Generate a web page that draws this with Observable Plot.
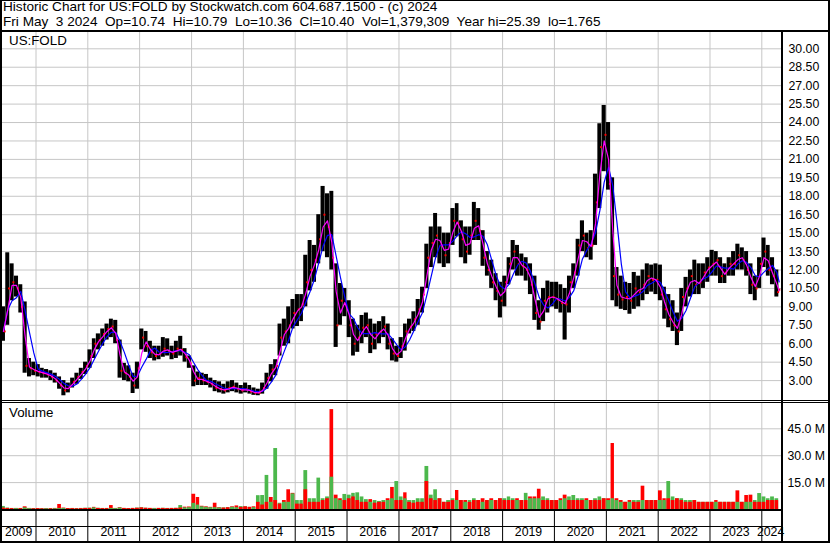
<!DOCTYPE html>
<html><head><meta charset="utf-8">
<script src="https://cdn.jsdelivr.net/npm/d3@7"></script>
<script src="https://cdn.jsdelivr.net/npm/@observablehq/plot@0.6"></script>
<style>
body{margin:0;background:#fff;}
#wrap{position:relative;width:830px;height:543px;overflow:hidden;font-family:Arial,"Liberation Sans",sans-serif;background:#fff;}
.ln{position:absolute;background:#000;}
.t{position:absolute;white-space:pre;font-size:13.6px;line-height:14px;color:#000;}
.p{position:absolute;left:0;}
</style></head><body>
<div id="wrap">
 <div class="p" id="price" style="top:32px"></div>
 <div class="p" id="vol" style="top:401px"></div>
 <div class="p" id="yrs" style="top:510px"></div>
 <div class="t" style="left:3px;top:0px">Historic Chart for US:FOLD by Stockwatch.com 604.687.1500 - (c) 2024</div>
 <div class="t" style="left:3px;top:14.7px">Fri May  3 2024  Op=10.74  Hi=10.79  Lo=10.36  Cl=10.40  Vol=1,379,309  Year hi=25.39  lo=1.765</div>
 <div class="t" style="left:9px;top:34px;font-size:13.33px">US:FOLD</div>
 <div class="t" style="left:9px;top:406px;font-size:13.33px">Volume</div>
 <div class="ln" style="left:0;top:0;width:830px;height:1px"></div>
 <div class="ln" style="left:0;top:30px;width:830px;height:2px"></div>
 <div class="ln" style="left:0;top:0;width:2px;height:543px"></div>
 <div class="ln" style="left:828px;top:0;width:2px;height:543px"></div>
 <div class="ln" style="left:781px;top:32px;width:2px;height:509px"></div>
 <div class="ln" style="left:0;top:400px;width:830px;height:1px"></div>
 <div class="ln" style="left:0;top:402px;width:830px;height:1px"></div>
 <div class="ln" style="left:0;top:509px;width:783px;height:2px"></div>
 <div class="ln" style="left:0;top:526px;width:783px;height:1px"></div>
 <div class="ln" style="left:0;top:541px;width:830px;height:2px"></div>
</div>
<script>
// ---- data (monthly, starting May 2009) ----
const firstMonth = [2009, 4];           // May 2009
const lastTradeDay = [2024, 4, 4];      // data ends May 3 2024
const hi = [
 9.0, 13.4, 12.5, 11.5, 10.8, 9.4, 4.8, 4.5,
 4.3, 4.0, 3.9, 3.8, 3.6, 3.3, 3.0, 2.8, 3.2, 3.6, 4.0, 4.5,
 5.5, 6.4, 6.8, 7.2, 7.6, 8.0, 7.9, 6.3, 4.4, 4.2, 3.6, 4.5,
 7.2, 7.0, 6.2, 5.8, 5.8, 6.5, 6.4, 5.8, 6.2, 6.6, 5.6, 5.0,
 4.2, 3.7, 3.6, 3.5, 3.2, 3.0, 2.9, 2.7, 2.9, 3.0, 2.8, 2.6,
 2.8, 2.6, 2.4, 2.3, 2.8, 3.6, 4.3, 4.7, 7.6, 8.0, 9.0, 9.6,
 10.0, 10.0, 13.2, 14.4, 14.0, 16.5, 18.8, 18.2, 18.4, 12.5, 10.9, 10.5,
 9.5, 8.0, 7.5, 8.3, 8.5, 8.0, 7.6, 7.8, 8.2, 7.6, 6.4, 5.8,
 6.5, 7.6, 8.0, 8.6, 9.6, 10.6, 14.1, 15.5, 16.6, 15.5, 15.0, 15.0,
 17.0, 17.4, 16.0, 15.5, 15.5, 17.5, 17.0, 15.2, 13.5, 12.8, 11.7, 11.0,
 11.5, 13.0, 14.4, 14.0, 13.3, 13.0, 12.5, 11.5, 9.5, 10.5, 11.1, 11.0,
 11.0, 10.8, 10.5, 11.5, 12.5, 14.5, 16.0, 15.0, 15.2, 19.8, 23.9, 25.39,
 24.0, 19.5, 12.2, 11.5, 11.0, 10.9, 11.8, 11.5, 12.0, 12.5, 12.4, 12.5,
 12.4, 10.6, 10.0, 9.5, 8.5, 10.5, 11.4, 12.0, 12.8, 12.5, 12.5, 13.0,
 13.6, 13.5, 13.0, 12.5, 13.0, 13.5, 14.1, 13.8, 13.5, 12.5, 11.5, 13.0,
 14.6, 14.0, 13.0, 12.0, 10.79
];
const lo = [
 6.2, 7.5, 9.5, 9.8, 8.5, 3.6, 3.3, 3.4,
 3.3, 3.2, 3.2, 3.0, 2.8, 2.3, 1.765, 2.0, 2.4, 2.7, 3.1, 3.5,
 4.0, 4.8, 5.5, 5.8, 6.3, 6.5, 6.0, 3.2, 3.0, 2.9, 1.95, 2.3,
 5.5, 5.3, 4.8, 4.6, 4.7, 4.9, 5.0, 4.7, 4.8, 5.0, 4.5, 4.0,
 2.5, 2.6, 2.6, 2.6, 2.4, 2.1, 2.0, 1.9, 2.0, 2.1, 2.0, 1.9,
 2.0, 1.9, 1.8, 1.77, 1.9, 2.3, 2.9, 3.4, 5.0, 5.8, 6.0, 7.2,
 7.4, 7.8, 9.0, 10.3, 11.0, 12.5, 13.5, 13.0, 12.0, 5.7, 7.5, 8.2,
 6.5, 5.0, 5.3, 6.0, 6.5, 5.2, 5.5, 6.0, 6.5, 5.5, 4.6, 4.5,
 4.8, 5.4, 6.8, 7.0, 7.5, 8.5, 10.5, 12.2, 13.0, 12.5, 12.2, 12.5,
 14.0, 14.7, 13.0, 12.5, 13.2, 14.4, 14.4, 12.3, 11.5, 10.5, 9.5, 8.1,
 9.0, 10.8, 12.0, 11.5, 11.5, 11.1, 10.0, 7.9, 7.1, 7.8, 8.5, 9.0,
 8.8, 8.5, 6.3, 8.5, 10.5, 11.5, 13.5, 13.0, 12.8, 14.0, 17.0, 20.0,
 18.5, 9.5, 9.0, 8.8, 8.7, 8.4, 8.8, 9.0, 9.5, 10.0, 10.2, 10.0,
 9.5, 8.0, 7.3, 7.0, 5.85, 7.0, 9.0, 9.8, 10.0, 10.0, 10.5, 11.0,
 11.5, 11.5, 10.9, 10.9, 11.5, 11.5, 12.0, 12.0, 11.5, 10.0, 9.5, 10.5,
 12.2, 11.5, 10.8, 9.8, 10.36
];
const cl = [
 7.0, 10.5, 11.0, 10.5, 9.0, 4.2, 4.0, 3.8,
 3.7, 3.6, 3.5, 3.3, 3.0, 2.6, 2.2, 2.5, 2.9, 3.3, 3.7, 4.2,
 5.0, 6.0, 6.3, 6.8, 7.2, 7.4, 6.3, 3.8, 3.6, 3.3, 2.6, 4.0,
 6.5, 5.8, 5.3, 5.0, 5.2, 5.6, 5.4, 5.2, 5.6, 5.5, 4.9, 4.4,
 3.0, 3.2, 3.0, 2.9, 2.7, 2.4, 2.3, 2.2, 2.4, 2.5, 2.3, 2.2,
 2.3, 2.1, 2.0, 2.0, 2.4, 3.2, 3.9, 4.2, 6.5, 7.0, 7.5, 8.5,
 8.8, 9.2, 11.0, 12.0, 12.8, 14.5, 16.5, 15.5, 13.0, 7.5, 9.5, 9.2,
 7.5, 6.0, 6.5, 7.3, 7.5, 6.0, 6.8, 7.0, 7.4, 6.0, 5.2, 5.0,
 5.8, 7.0, 7.4, 8.0, 8.8, 10.0, 13.0, 14.2, 14.8, 14.0, 13.2, 14.2,
 16.0, 15.8, 14.5, 13.5, 14.8, 16.0, 15.2, 13.0, 12.0, 11.0, 10.3, 9.5,
 11.0, 12.5, 13.5, 12.5, 12.3, 12.0, 10.8, 8.5, 7.8, 9.5, 9.8, 9.8,
 9.6, 9.3, 9.2, 11.0, 11.8, 14.0, 14.8, 13.8, 14.0, 17.5, 22.0, 23.0,
 19.0, 11.5, 10.0, 9.6, 9.8, 9.5, 10.5, 10.2, 10.8, 11.5, 11.2, 11.2,
 10.0, 8.8, 8.0, 7.5, 7.0, 9.8, 10.5, 11.5, 10.8, 11.0, 11.8, 12.2,
 12.5, 12.8, 11.5, 11.8, 12.5, 12.5, 13.2, 12.8, 12.0, 10.8, 10.5, 12.5,
 13.5, 12.0, 11.5, 10.2, 10.40
];
// peak daily volume (millions) on up days / down days in each month
const volUp = [
 1.7, 0.8, 0.6, 0.5, 0.6, 0.9, 0.5, 0.5,
 0.5, 0.5, 0.4, 0.5, 0.4, 0.5, 0.6, 0.5, 0.6, 0.5, 0.6, 0.7,
 0.8, 0.9, 0.7, 0.6, 0.6, 0.6, 0.5, 0.8, 0.6, 0.5, 0.6, 0.8,
 1.0, 0.7, 0.6, 0.5, 0.6, 0.7, 0.6, 0.6, 0.7, 2.2, 0.9, 1.0,
 3.4, 2.5, 1.5, 1.2, 1.0, 1.0, 0.8, 0.9, 1.0, 1.2, 1.0, 1.6,
 1.5, 1.2, 1.0, 7.7, 7.8, 19, 4, 34, 3.5, 4, 4, 8.7,
 5, 5, 21.7, 6, 6, 17.5, 6, 7, 18, 6, 5, 8.4,
 8, 9, 9.3, 7, 5.5, 4, 5, 4.5, 5, 5, 6, 15.6,
 7, 6, 5, 5, 6, 6, 24, 8, 11, 6, 4, 5,
 6, 5, 5, 4, 5, 6, 5, 4, 5, 5, 5, 6,
 6, 7, 6, 5, 5, 9, 6, 6, 6, 7, 6, 5,
 5, 5, 6, 7, 7.8, 6, 6, 5, 5, 6, 7, 6,
 5, 6, 5, 4, 4, 4, 5, 5, 5, 5, 5, 5,
 5, 5, 15.6, 7, 6, 6, 5, 5, 5, 4, 4, 4,
 4, 4, 4, 4, 4, 4, 4, 4, 4, 4, 5, 8.9,
 7, 6, 7, 6, 1.4
];
const volDn = [
 0.8, 0.6, 0.5, 0.6, 0.5, 1.5, 0.6, 0.4,
 0.5, 0.4, 0.5, 0.4, 0.6, 2.8, 0.8, 0.5, 0.5, 0.4, 0.5, 0.6,
 0.6, 1.2, 0.6, 0.5, 0.5, 2.2, 0.6, 1.0, 0.6, 0.5, 0.6, 0.7,
 0.9, 0.7, 0.6, 0.6, 0.6, 0.6, 0.5, 0.6, 0.6, 0.8, 1.3, 1.4,
 8.5, 6.7, 1.8, 1.5, 1.2, 3.5, 1.0, 0.8, 1.0, 1.5, 2.0, 1.2,
 1.5, 1.2, 1.5, 4, 2.5, 4, 6.7, 5, 3, 5, 11, 9,
 3, 3, 11, 4, 4, 4, 5, 6, 55.7, 8, 6, 5,
 6, 7, 5, 4, 4, 5.5, 3.5, 4, 4, 6, 12.3, 5,
 5, 9.3, 4, 3.5, 4, 4, 15.6, 6, 5, 6, 4, 4,
 5, 10.6, 5, 5, 4, 5, 5, 6, 5, 6, 5, 6,
 5, 5, 5, 6, 5, 5, 7, 7, 11.3, 5, 5, 5,
 5, 6, 8, 5, 5, 5, 5, 6, 5, 5, 5, 6,
 6, 36.8, 6, 5, 4, 5, 4, 4, 13, 5, 5, 5,
 10.4, 6, 6, 5, 6, 5, 4, 4, 5, 4, 4, 4,
 4, 5, 4, 4, 4, 4, 10.4, 4, 7.8, 8, 4, 4,
 4, 5, 5, 5, 1.4
];
const priceTicks = [3.00, 4.50, 6.00, 7.50, 9.00, 10.50, 12.00, 13.50, 15.00, 16.50, 18.00, 19.50, 21.00, 22.50, 24.00, 25.50, 27.00, 28.50, 30.00];
const volTicks = [15, 30, 45];
const yearLabels = [2009, 2010, 2011, 2012, 2013, 2014, 2015, 2016, 2017, 2018, 2019, 2020, 2021, 2022, 2023, 2024];
const gridYears = yearLabels.slice(1);

// ---- build tables ----
const start = new Date(Date.UTC(firstMonth[0], firstMonth[1], 1));
const endDay = new Date(Date.UTC(...lastTradeDay));
const months = hi.map((h, i) => {
  const d1 = d3.utcMonth.offset(start, i);
  const n = d3.utcMonth.offset(start, i + 1);
  const d2 = n > endDay ? endDay : n;
  return {d1, d2, dm: new Date((+d1 + +d2) / 2), dc: new Date(+d1 + (d2 - d1) * 0.8),
          hi: h, lo: lo[i], cl: cl[i], up: volUp[i], dn: volDn[i]};
});
const GREEN = "#4cb84c", RED = "#ff0000";
const volBars = [];
for (const m of months) {
  const a = {d1: m.d1, d2: m.d2, v: m.up, c: GREEN};
  const b = {d1: m.d1, d2: m.d2, v: m.dn, c: RED};
  if (a.v >= b.v) volBars.push(a, b); else volBars.push(b, a);
}
const yearGrid = gridYears.map(y => new Date(Date.UTC(y, 0, 1)));
const yearText = yearLabels.map(y => {
  const s = Math.max(+new Date(Date.UTC(y, 0, 1)), +start);
  const e = Math.min(+new Date(Date.UTC(y + 1, 0, 1)), +endDay);
  return {label: String(y), x: new Date((s + e) / 2)};
});

const xOpt = {type: "utc", domain: [new Date(Date.UTC(2010, 0, 1)), new Date(Date.UTC(2024, 0, 1))], range: [35.5, 761.3], axis: null};
const font = "Arial, 'Liberation Sans', sans-serif";
const GRID = "#c6c6c6";
const common = {width: 830, marginLeft: 2, marginRight: 49, marginTop: 0, marginBottom: 0,
  style: {background: "transparent", fontFamily: font, overflow: "visible"}};

const price = Plot.plot({
  ...common, height: 368,
  x: xOpt,
  y: {domain: [3, 30], range: [348.1, 16.3], axis: null},
  marks: [
    Plot.ruleX(yearGrid, {stroke: GRID, strokeWidth: 1}),
    Plot.ruleY(priceTicks, {stroke: GRID, strokeWidth: 1}),
    Plot.rect(months, {x1: "d1", x2: "d2", y1: "lo", y2: "hi", fill: "#000", insetLeft: 0.15, insetRight: 0.15}),
    Plot.dot(months, {x: "dc", y: "cl", r: 1.1, symbol: "square", fill: RED}),
    Plot.lineY(months, Plot.windowY({k: 4, anchor: "end"}, {x: "dm", y: "cl", stroke: "#0000ff", strokeWidth: 1.2})),
    Plot.lineY(months, Plot.windowY({k: 2, anchor: "end"}, {x: "dm", y: "cl", stroke: "#ff00ff", strokeWidth: 1.2})),
    Plot.text(priceTicks, {y: d => d, text: d => d.toFixed(2), frameAnchor: "right", dx: 7, textAnchor: "start", fill: "#000", fontSize: 12.3, fontFamily: font})
  ]
});
document.getElementById("price").append(price);

const vol = Plot.plot({
  ...common, height: 108, marginTop: 2,
  x: xOpt,
  y: {domain: [0, 45], range: [108, 27.3], axis: null},
  color: {type: "identity"},
  marks: [
    Plot.ruleX(yearGrid, {stroke: GRID, strokeWidth: 1}),
    Plot.ruleY(volTicks, {stroke: GRID, strokeWidth: 1}),
    Plot.rect(volBars, {x1: "d1", x2: "d2", y1: 0, y2: "v", fill: "c", insetLeft: 0.3, insetRight: 0.3}),
    Plot.text(volTicks, {y: d => d, text: d => d.toFixed(1) + " M", frameAnchor: "right", dx: 6, textAnchor: "start", fill: "#000", fontSize: 12.3, fontFamily: font})
  ]
});
document.getElementById("vol").append(vol);

const yrs = Plot.plot({
  ...common, height: 31,
  x: xOpt,
  marks: [
    Plot.ruleX(yearGrid, {stroke: "#000", strokeWidth: 1}),
    Plot.text(yearText, {x: "x", text: "label", frameAnchor: "bottom", dy: -6, fill: "#000", fontSize: 12.3, fontFamily: font})
  ]
});
document.getElementById("yrs").append(yrs);
</script>
</body></html>
